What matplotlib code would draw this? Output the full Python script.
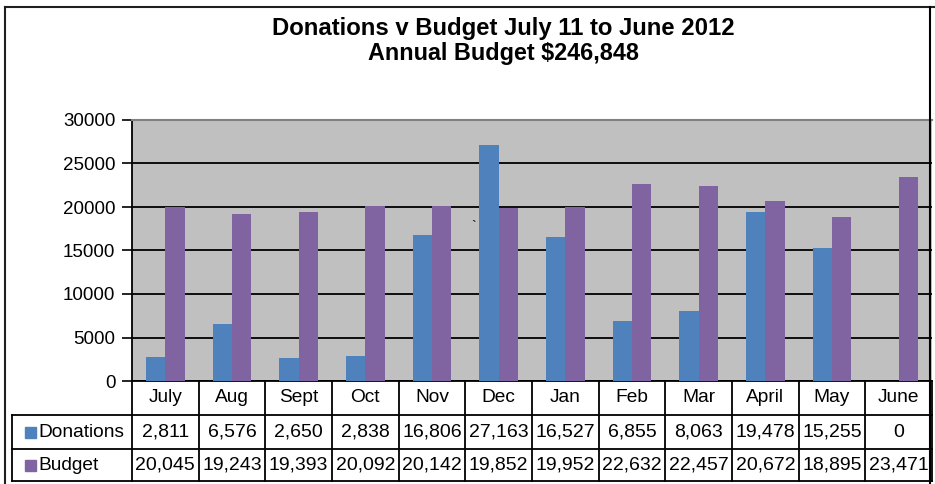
import numpy as np
import matplotlib
matplotlib.use("Agg")
from matplotlib import pyplot as plt
from matplotlib.patches import Rectangle
from matplotlib.lines import Line2D

months = ['July', 'Aug', 'Sept', 'Oct', 'Nov', 'Dec', 'Jan', 'Feb', 'Mar', 'April', 'May', 'June']
donations = [2811, 6576, 2650, 2838, 16806, 27163, 16527, 6855, 8063, 19478, 15255, 0]
budget = [20045, 19243, 19393, 20092, 20142, 19852, 19952, 22632, 22457, 20672, 18895, 23471]
series = [('Donations', donations, '#4F81BD'), ('Budget', budget, '#8064A2')]
y_ticks = [0, 5000, 10000, 15000, 20000, 25000, 30000]

plt.rcParams['font.family'] = ['Liberation Sans', 'DejaVu Sans']

W, H = 935, 484
fig = plt.figure(figsize=(W / 100, H / 100), dpi=100)
ax = fig.add_axes([132 / W, 103 / H, 800 / W, 261 / H])
ax.set_facecolor('#C0C0C0')

x = np.arange(len(months))
bw = 0.29
for i, (name, vals, col) in enumerate(series):
    ax.bar(x + (i - 0.5) * bw, vals, width=bw, color=col, zorder=3)

ax.set_xlim(-0.5, len(months) - 0.5)
ax.set_ylim(0, 30000)
ax.set_yticks(y_ticks)
ax.set_yticklabels([str(t) for t in y_ticks], fontsize=13.5)
ax.set_xticks([])
ax.tick_params(axis='y', length=7, width=1.2, pad=5, color='black')
ax.grid(axis='y', color='black', linewidth=1.3, zorder=1)
ax.set_axisbelow(True)
ax.spines['right'].set_visible(False)
ax.spines['top'].set_color('#808080')
ax.spines['top'].set_linewidth(1.5)
for s in ['left', 'bottom']:
    ax.spines[s].set_color('black')
    ax.spines[s].set_linewidth(1.3)

# stray mark in the original
ax.text(4.63, 17700, '`', fontsize=10, ha='center', va='center', zorder=4)

# data table under the axis
tr = ax.get_xaxis_transform()
rows_y = [0, -0.130, -0.261, -0.383]
left_x = -2.3
lw = 1.3
for xi in np.arange(len(months) + 1) - 0.5:
    ax.add_line(Line2D([xi, xi], [rows_y[0], rows_y[3]], transform=tr, color='black', lw=lw, clip_on=False))
ax.add_line(Line2D([left_x, left_x], [rows_y[1], rows_y[3]], transform=tr, color='black', lw=lw, clip_on=False))
for yy in rows_y[1:]:
    ax.add_line(Line2D([left_x, len(months) - 0.5], [yy, yy], transform=tr, color='black', lw=lw, clip_on=False))

mid = [(rows_y[k] + rows_y[k + 1]) / 2 for k in range(3)]
for i, m in enumerate(months):
    ax.text(i, mid[0], m, transform=tr, ha='center', va='center', fontsize=13.8, clip_on=False)
for r, (name, vals, col) in enumerate(series):
    yc = mid[r + 1]
    for i, v in enumerate(vals):
        ax.text(i, yc, f'{v:,}', transform=tr, ha='center', va='center', fontsize=14, clip_on=False)
    ax.add_patch(Rectangle((-2.1, yc - 0.021), 0.165, 0.042, transform=tr, color=col, clip_on=False))
    ax.text(-1.91, yc, name, transform=tr, ha='left', va='center', fontsize=13.8, clip_on=False)

# titles
fig.text(503 / W, 1 - 35 / H, 'Donations v Budget July 11 to June 2012', ha='center', va='baseline',
         fontsize=17.2, fontweight='bold')
fig.text(503 / W, 1 - 60 / H, 'Annual Budget $246,848', ha='center', va='baseline',
         fontsize=16.8, fontweight='bold')

# chart border (clipped on the right)
fig.add_artist(Line2D([5 / W, 5 / W], [0, 1 - 6.5 / H], color='#202020', lw=1.5, transform=fig.transFigure))
fig.add_artist(Line2D([5 / W, 1], [1 - 6.5 / H, 1 - 6.5 / H], color='#202020', lw=1.5, transform=fig.transFigure))
fig.add_artist(Line2D([930 / W, 930 / W], [0, 1 - 6.5 / H], color='black', lw=1.5, transform=fig.transFigure))

fig.savefig('out.png', dpi=100)
